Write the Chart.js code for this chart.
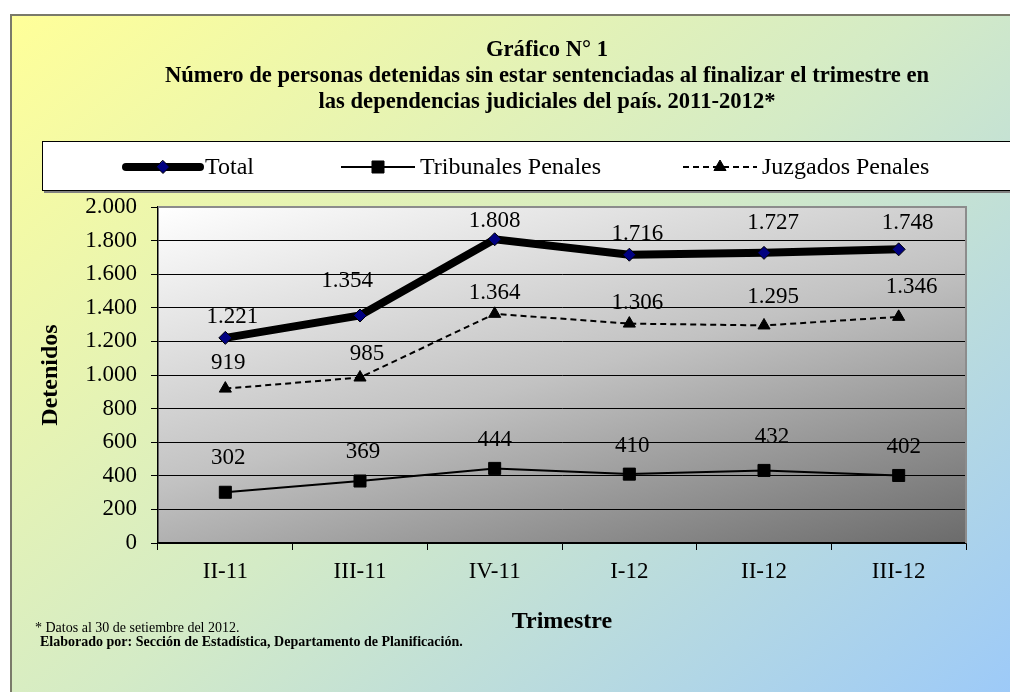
<!DOCTYPE html>
<html lang="es">
<head>
    <meta charset="UTF-8">
    <title>Gráfico N° 1</title>
    <script src="https://cdn.jsdelivr.net/npm/chart.js"></script>
    <style>
        body { margin: 0; background: #fff; }
        #wrap { width: 1010px; height: 692px; }
    </style>
</head>
<body>
<div id="wrap"><canvas id="grafico" width="1010" height="692"></canvas></div>
<script>
    // datos
    const trimestres = ['II-11', 'III-11', 'IV-11', 'I-12', 'II-12', 'III-12'];
    const total = [1221, 1354, 1808, 1716, 1727, 1748];
    const tribunalesPenales = [302, 369, 444, 410, 432, 402];
    const juzgadosPenales = [919, 985, 1364, 1306, 1295, 1346];
    const yTickValues = [0, 200, 400, 600, 800, 1000, 1200, 1400, 1600, 1800, 2000];
    const serieNombres = ['Total', 'Tribunales Penales', 'Juzgados Penales'];

    const titulo = [
        'Gráfico N° 1',
        'Número de personas detenidas sin estar sentenciadas al finalizar el trimestre en',
        'las dependencias judiciales del país. 2011-2012*'
    ];
    const notaDatos = '* Datos al 30 de setiembre del 2012.';
    const notaFuente = 'Elaborado por: Sección de Estadística, Departamento de Planificación.';

    const SERIF = "'Liberation Serif', 'Times New Roman', serif";
    Chart.defaults.font.family = SERIF;
    Chart.defaults.color = '#000';

    // formato con punto de miles: 1.808
    function fmt(v) {
        return String(v).replace(/\B(?=(\d{3})+(?!\d))/g, '.');
    }

    // degradado "diagonal" con pesos por eje (u = x/ancho, v = y/alto)
    function diagGradient(ctx, x, y, w, h, a, b, stops) {
        const p = a / w, q = b / h;
        const k = 1 / (p * p + q * q);
        const g = ctx.createLinearGradient(x, y, x + p * k, y + q * k);
        stops.forEach(s => g.addColorStop(s[0], s[1]));
        return g;
    }

    function marcador(ctx, estilo, x, y, r, relleno) {
        ctx.fillStyle = relleno;
        ctx.strokeStyle = '#000';
        ctx.lineWidth = 1;
        ctx.setLineDash([]);
        ctx.beginPath();
        if (estilo === 'rectRot') {
            ctx.moveTo(x, y - r); ctx.lineTo(x + r, y); ctx.lineTo(x, y + r); ctx.lineTo(x - r, y);
        } else if (estilo === 'rect') {
            const s = r * Math.SQRT1_2;
            ctx.rect(x - s, y - s, 2 * s, 2 * s);
        } else {
            const e = 3 * r / Math.sqrt(3), hgt = e * Math.sqrt(3) / 2;
            ctx.moveTo(x - e / 2, y + hgt / 3); ctx.lineTo(x + e / 2, y + hgt / 3); ctx.lineTo(x, y - 2 * hgt / 3);
        }
        ctx.closePath();
        ctx.fill();
        ctx.stroke();
    }

    const fondo = {
        id: 'fondo',
        beforeDraw(chart) {
            const { ctx, width, height, chartArea: a } = chart;
            ctx.save();
            ctx.fillStyle = '#fff';
            ctx.fillRect(0, 0, width, height);
            // marco exterior
            ctx.fillStyle = diagGradient(ctx, 11, 15, width - 11, height - 15, 0.55, 0.45,
                [[0, '#ffff99'], [0.5, '#d4ebc6'], [1, '#9dcaf8']]);
            ctx.fillRect(11, 15, width, height);
            ctx.strokeStyle = '#7a7a6a';
            ctx.lineWidth = 2;
            ctx.strokeRect(11, 15, width + 10, height + 10);
            // area de trazado
            ctx.fillStyle = diagGradient(ctx, a.left, a.top, a.width, a.height, 0.4, 0.6,
                [[0, '#ffffff'], [0.5, '#c2c2c2'], [1, '#6b6b6b']]);
            ctx.fillRect(a.left, a.top, a.width, a.height);
            ctx.restore();
        },
        beforeDatasetsDraw(chart) {
            const { ctx, chartArea: a } = chart;
            ctx.save();
            ctx.strokeStyle = '#8c8c8c';
            ctx.lineWidth = 2;
            ctx.beginPath();
            ctx.moveTo(a.left, a.top);
            ctx.lineTo(a.right, a.top);
            ctx.lineTo(a.right, a.bottom);
            ctx.stroke();
            ctx.restore();
        }
    };

    // etiquetas de datos encima de cada punto (desplazamiento como en el original)
    const etiquetas = {
        id: 'etiquetas',
        afterDatasetsDraw(chart) {
            const { ctx } = chart;
            const alza = [
                [21, 35, 18, 21, 30, 26],
                [34, 29, 28, 28, 33, 29],
                [26, 24, 21, 21, 28, 30]
            ];
            const corre = [
                [7, -13, 0, 8, 9, 9],
                [3, 3, 0, 3, 8, 5],
                [3, 7, 0, 8, 9, 13]
            ];
            ctx.save();
            ctx.font = '23px ' + SERIF;
            ctx.fillStyle = '#000';
            ctx.textAlign = 'center';
            ctx.textBaseline = 'middle';
            chart.data.datasets.forEach((ds, i) => {
                chart.getDatasetMeta(i).data.forEach((pt, j) => {
                    ctx.fillText(fmt(ds.data[j]), pt.x + corre[i][j], pt.y - alza[i][j]);
                });
            });
            ctx.restore();
        }
    };

    const textos = {
        id: 'textos',
        afterDraw(chart) {
            const { ctx, width } = chart;
            ctx.save();
            // titulo
            ctx.fillStyle = '#000';
            ctx.textAlign = 'center';
            ctx.textBaseline = 'middle';
            ctx.font = 'bold 22.6px ' + SERIF;
            titulo.forEach((t, i) => ctx.fillText(t, 547, 50 + i * 26));

            // leyenda
            ctx.fillStyle = '#808080';
            ctx.fillRect(44, 143, width, 50);
            ctx.fillStyle = '#fff';
            ctx.fillRect(42, 141, width, 50);
            ctx.strokeStyle = '#000';
            ctx.lineWidth = 1;
            ctx.strokeRect(42.5, 141.5, width, 49);

            const ly = 167;
            const inicio = [126, 341, 683];
            chart.data.datasets.forEach((ds, i) => {
                const x0 = inicio[i], x1 = x0 + 74;
                ctx.strokeStyle = ds.borderColor;
                ctx.lineWidth = ds.borderWidth;
                ctx.lineCap = i === 0 ? 'round' : 'butt';
                ctx.setLineDash(ds.borderDash || []);
                ctx.beginPath();
                ctx.moveTo(x0, ly);
                ctx.lineTo(x1, ly);
                ctx.stroke();
                marcador(ctx, ds.pointStyle, (x0 + x1) / 2, ly, ds.pointRadius, ds.pointBackgroundColor);
                ctx.fillStyle = '#000';
                ctx.textAlign = 'left';
                ctx.font = '24px ' + SERIF;
                ctx.fillText(ds.label, x1 + 5, ly + 1);
            });

            // notas
            ctx.textAlign = 'left';
            ctx.font = '14px ' + SERIF;
            ctx.fillText(notaDatos, 35, 628);
            ctx.font = 'bold 14px ' + SERIF;
            ctx.fillText(notaFuente, 40, 642);
            ctx.restore();
        }
    };

    new Chart(document.getElementById('grafico').getContext('2d'), {
        type: 'line',
        data: {
            labels: trimestres,
            datasets: [
                {
                    label: serieNombres[0],
                    data: total,
                    borderColor: '#000',
                    borderWidth: 8,
                    pointStyle: 'rectRot',
                    pointRadius: 6.5,
                    pointBackgroundColor: '#000080',
                    pointBorderColor: '#000',
                    pointBorderWidth: 1
                },
                {
                    label: serieNombres[1],
                    data: tribunalesPenales,
                    borderColor: '#000',
                    borderWidth: 2,
                    pointStyle: 'rect',
                    pointRadius: 8.5,
                    pointBackgroundColor: '#000',
                    pointBorderColor: '#000',
                    pointBorderWidth: 1
                },
                {
                    label: serieNombres[2],
                    data: juzgadosPenales,
                    borderColor: '#000',
                    borderWidth: 2,
                    borderDash: [6, 4],
                    pointStyle: 'triangle',
                    pointRadius: 7,
                    pointBackgroundColor: '#000',
                    pointBorderColor: '#000',
                    pointBorderWidth: 1
                }
            ]
        },
        options: {
            responsive: false,
            animation: false,
            events: [],
            elements: { line: { tension: 0, fill: false } },
            layout: { padding: { left: 36, top: 207, right: 44, bottom: 56 } },
            plugins: {
                legend: { display: false },
                title: { display: false },
                tooltip: { enabled: false }
            },
            scales: {
                x: {
                    type: 'category',
                    offset: true,
                    grid: { display: true, drawOnChartArea: false, drawTicks: true, tickLength: 7, color: '#000', offset: true },
                    border: { display: true, color: '#000', width: 1.5 },
                    ticks: { font: { size: 23 }, color: '#000', padding: 8 },
                    title: { display: true, text: 'Trimestre', font: { size: 24, weight: 'bold' }, color: '#000', padding: 0 },
                    afterFit(s) { s.height = 93; }
                },
                y: {
                    min: 0,
                    max: 2000,
                    afterBuildTicks(s) { s.ticks = yTickValues.map(v => ({ value: v })); },
                    grid: { color: '#000', lineWidth: 1, drawTicks: true, tickLength: 7 },
                    border: { display: true, color: '#000', width: 1.5 },
                    ticks: { font: { size: 23 }, color: '#000', padding: 14, callback: v => fmt(v) },
                    title: { display: true, text: 'Detenidos', font: { size: 24, weight: 'bold' }, color: '#000', padding: 0 },
                    afterFit(s) { s.width = 122; }
                }
            }
        },
        plugins: [fondo, etiquetas, textos]
    });
</script>
</body>
</html>
